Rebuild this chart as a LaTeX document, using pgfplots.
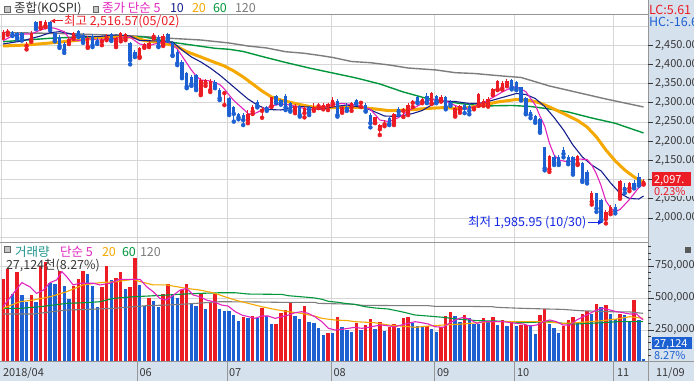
\documentclass[border=0pt]{standalone}
\usepackage{fontspec}
\setmainfont{Noto Sans CJK KR}
\usepackage{pgfplots}
\pgfplotsset{compat=1.18}
\usepackage{pgfplotstable}
\usetikzlibrary{arrows.meta}
\definecolor{cred}{RGB}{236,28,36}
\definecolor{cblue}{RGB}{28,96,210}
\definecolor{ma5}{RGB}{226,36,190}
\definecolor{ma10}{RGB}{22,32,140}
\definecolor{ma20}{RGB}{245,168,0}
\definecolor{ma60}{RGB}{0,150,60}
\definecolor{ma120}{RGB}{125,125,125}
\definecolor{gridc}{RGB}{214,214,214}
\definecolor{panel}{RGB}{214,225,238}
\definecolor{txt}{RGB}{55,55,55}
\definecolor{tealc}{RGB}{30,150,140}
\definecolor{annblue}{RGB}{20,40,230}
\definecolor{sepc}{RGB}{150,150,150}

\pgfplotstableread{
i o h l c
0 2472 2490 2469 2485
1 2483 2492 2477 2488
5 2448 2457 2439 2453
6 2464 2487 2459 2483
8 2497 2514 2494 2512
9 2500 2516.57 2497 2510
14 2459 2471 2453 2465
15 2471 2484 2466 2481
18 2446 2474 2443 2468
21 2459 2468 2450 2463
22 2468 2479 2463 2474
24 2450 2471 2445 2468
25 2465 2484 2460 2481
26 2468 2482 2463 2479
29 2420 2445 2417 2442
30 2446 2456 2443 2452
31 2450 2461 2445 2456
32 2472 2481 2468 2477
34 2450 2479 2448 2474
42 2323 2364 2320 2359
43 2351 2362 2344 2359
44 2333 2362 2328 2357
47 2325 2331 2294 2329
52 2255 2281 2247 2271
53 2277 2294 2271 2289
55 2279 2290 2261 2284
57 2292 2316 2289 2314
62 2279 2297 2273 2292
64 2273 2292 2262 2286
66 2283 2299 2279 2289
67 2291 2299 2286 2294
68 2289 2299 2283 2294
69 2292 2299 2281 2296
70 2299 2314 2294 2307
72 2277 2292 2274 2289
74 2289 2303 2279 2300
76 2300 2305 2289 2303
79 2249 2264 2247 2262
80 2231 2245 2216 2242
81 2244 2255 2239 2248
83 2247 2273 2242 2271
85 2279 2286 2263 2283
86 2273 2299 2268 2294
87 2300 2307 2289 2303
89 2303 2312 2299 2309
91 2299 2329 2297 2325
93 2307 2320 2303 2316
96 2268 2291 2264 2286
97 2281 2294 2274 2291
100 2286 2292 2283 2290
101 2295 2325 2292 2323
102 2298 2309 2292 2305
103 2293 2314 2290 2310
104 2325 2338 2320 2335
105 2335 2360 2333 2357
106 2338 2356 2334 2351
107 2346 2362 2343 2358
116 2127 2164 2120 2161.5
122 2142 2165 2138 2161.5
125 2042.6 2070 2035 2064.3
128 1997.5 2022 1985.95 2014.7
129 2016.5 2033 2010 2029.5
131 2055.6 2100 2050 2097.3
133 2077.3 2093 2070 2090.3
136 2090.3 2101 2087 2097.3
}\redc

\pgfplotstableread{
i o h l c
2 2484 2487 2474 2477
3 2482 2484 2466 2471
4 2481 2484 2462 2468
7 2511 2514 2492 2497
10 2510 2513 2489 2494
11 2482 2485 2460 2463
12 2472 2476 2443 2448
13 2453 2458 2430 2437
16 2487 2490 2471 2477
17 2477 2481 2456 2459
19 2474 2479 2445 2450
20 2463 2469 2453 2457
23 2479 2482 2461 2465
27 2455 2459 2400 2411
28 2433 2437 2419 2424
33 2472 2476 2445 2448
35 2479 2482 2461 2465
36 2455 2458 2422 2424
37 2433 2437 2398 2403
38 2407 2411 2364 2368
39 2377 2380 2338 2342
40 2366 2372 2344 2349
41 2372 2375 2333 2338
45 2355 2359 2338 2342
46 2333 2338 2307 2312
48 2312 2315 2268 2273
49 2289 2292 2251 2271
50 2271 2274 2257 2262
51 2268 2273 2242 2255
54 2303 2307 2288 2292
56 2288 2292 2279 2283
58 2318 2320 2299 2300
59 2307 2310 2295 2299
60 2318 2323 2281 2288
61 2299 2303 2277 2281
63 2292 2294 2264 2268
65 2289 2292 2268 2274
71 2305 2309 2264 2268
73 2290 2300 2279 2283
75 2307 2311 2297 2299
77 2294 2299 2277 2279
78 2268 2273 2236 2247
82 2260 2264 2242 2245
84 2283 2289 2268 2277
88 2314 2318 2299 2302
90 2318 2326 2299 2303
92 2318 2321 2299 2303
94 2314 2318 2283 2289
95 2303 2307 2292 2297
98 2294 2297 2273 2286
99 2291 2300 2270 2279
108 2359 2362 2335 2340
109 2355 2358 2333 2338
110 2340 2342 2306 2309
111 2312 2314 2270 2273
112 2277 2281 2260 2268
113 2266 2268 2248 2253
114 2257 2260 2222 2225
115 2184 2186 2124 2129.5
117 2158 2163 2138 2142.5
118 2160 2163 2138 2144
119 2177 2184 2158 2167
120 2160 2164 2140 2147
121 2158 2161 2113 2118
123 2144 2146 2094 2099
124 2121 2124 2090 2097
126 2064 2066 2016 2025
127 2047 2050 1993 1995
130 2029.5 2037 2012 2019
132 2081.6 2090 2065 2074.7
134 2091 2100 2077 2081
135 2107.7 2117 2084 2088.6
}\bluec

\pgfplotstableread{
i v
0 648000
1 724000
3 703000
6 523000
8 750000
9 780000
12 711000
15 596000
16 648000
17 711000
21 586000
22 753000
24 659000
25 706000
27 583000
28 815000
31 503000
34 531000
35 612000
38 565000
39 612000
42 536000
44 458000
45 532000
51 349000
53 359000
55 424000
58 297000
59 383000
60 406000
61 464000
64 437000
69 227000
71 352000
75 305000
77 289000
78 336000
80 312000
82 273000
83 297000
85 344000
86 352000
90 281000
93 271000
94 359000
95 391000
98 367000
102 344000
104 352000
106 328000
108 320000
110 289000
111 289000
114 367000
115 414000
119 281000
120 328000
121 352000
123 375000
124 401000
126 453000
128 445000
131 375000
134 484000
}\redv

\pgfplotstableread{
i v
2 531000
4 526000
5 470000
7 471000
10 620000
11 612000
13 594000
14 492000
18 690000
19 596000
20 430000
23 641000
26 570000
29 604000
30 435000
32 477000
33 432000
36 521000
37 503000
40 464000
41 437000
43 417000
46 414000
47 398000
48 398000
49 367000
50 320000
52 344000
54 344000
56 359000
57 297000
62 359000
63 336000
65 312000
66 305000
67 266000
68 211000
70 227000
72 273000
73 250000
74 234000
76 253000
79 258000
81 242000
84 266000
87 305000
88 281000
89 273000
91 258000
92 234000
96 359000
97 312000
99 344000
100 297000
101 297000
103 312000
105 289000
107 281000
109 281000
112 289000
113 219000
116 297000
117 266000
118 227000
122 312000
125 375000
127 430000
129 375000
130 336000
132 367000
133 320000
135 328000
136 27124
}\bluev

\newcommand\fa{\fontsize{11bp}{13bp}\selectfont}
\newcommand\fb{\fontsize{12.5bp}{14bp}\selectfont}

\begin{document}
\begin{tikzpicture}[every node/.style={inner sep=0pt, outer sep=0pt}]
\useasboundingbox (0,0) rectangle (694bp,381bp);
\clip (0,0) rectangle (694bp,381bp);
\fill[white] (0,0) rectangle (694bp,381bp);
\fill[panel] (648bp,0) rectangle (694bp,381bp);
\fill[panel] (0,0) rectangle (694bp,19bp);

% ---------------- price panel
\begin{axis}[at={(0bp,138bp)}, anchor=south west, scale only axis,
  width=648bp, height=229bp,
  xmin=-0.637, xmax=136.94, ymin=1934.9, ymax=2531.2,
  axis line style={draw=none},
  xtick={28.56,47.66,69.75,91.61,108.6,129.6}, xticklabels={},
  ytick={1950,2000,...,2500}, yticklabels={},
  major tick length=0pt,
  xmajorgrids, ymajorgrids,
  major grid style={draw=gridc, line width=0.9bp}]
\addplot[ma120, line width=1.4bp] coordinates {(0,2483)(14,2480)(28,2474)(34,2469)(42,2463.5)(48,2455.7)(52,2447.9)(56,2442.7)(60,2433)(64,2428.9)(68,2421.9)(70,2418)(74,2407.5)(78,2404.4)(82,2398.4)(86,2390.6)(92,2385.4)(96,2378.4)(100,2376.3)(106,2369.8)(110,2365.9)(116,2343.8)(122,2326.8)(128,2309.9)(136,2289.1)};
\addplot[ma60, line width=1.4bp] coordinates {(0,2459.1)(5,2463.5)(10,2468)(15,2470.6)(25,2472.1)(30,2471.4)(35,2459.1)(40,2450.5)(45,2441.9)(48,2439.3)(51,2433.6)(55,2420.6)(60,2405)(65,2390.6)(70,2377.6)(75,2364.6)(80,2349)(85,2328.1)(90,2311.2)(93,2306)(97,2298.2)(102,2291.7)(108,2293)(112,2290.4)(116,2283.9)(120,2276.1)(125,2260.4)(130,2246.6)(136,2221.4)};
\addplot[ma20, line width=3bp] coordinates {(0,2447.9)(5,2450.5)(10,2455.7)(15,2461.7)(20,2468.7)(25,2472.7)(28,2470.1)(30,2462.2)(34,2455.7)(37,2446.1)(39,2433.1)(42,2419.3)(45,2405)(47,2395.8)(49,2382.8)(51,2367.2)(53,2349)(55,2330.7)(57,2315.1)(59,2307.3)(62,2298.2)(65,2290.4)(68,2286.5)(72,2288.3)(76,2287.8)(79,2283.9)(82,2279.4)(86,2281.3)(90,2285.2)(94,2287.8)(97,2283.9)(101,2291.7)(105,2302.1)(109,2308.6)(112,2306)(114,2299.5)(116,2289.1)(119,2272.1)(122,2253.9)(124,2237)(126,2210.9)(128,2177.1)(130,2148.4)(132,2125)(134,2106.8)(136,2092.5)};
\addplot[ma10, line width=1.1bp] coordinates {(0,2453.1)(4,2460.9)(8,2474)(10,2482.5)(12,2485.2)(14,2480.5)(16,2474)(20,2472.1)(24,2476.6)(27,2474)(29,2462.2)(33,2460.9)(36,2458.3)(38,2437.5)(40,2419.3)(42,2406.3)(44,2390.6)(46,2372.4)(48,2351.6)(50,2330.7)(52,2309.9)(54,2294.3)(56,2282.6)(59,2281.3)(62,2290.4)(65,2289.1)(67,2282.6)(70,2289.1)(73,2294.3)(77,2286.5)(79,2276.1)(81,2265.6)(84,2264.3)(87,2272.1)(89,2279.9)(91,2294.3)(93,2304.7)(96,2303.4)(99,2298.2)(101,2298.2)(103,2303.4)(106,2313.8)(109,2324.2)(111,2321.6)(113,2311.2)(115,2290.4)(117,2261.7)(119,2229.2)(121,2190.1)(123,2158.9)(125,2138)(127,2122.4)(129,2091.2)(131,2064.4)(133,2050.8)(135,2049.5)(136,2057.3)};
\addplot[ma5, line width=1.1bp] coordinates {(0,2461.7)(2,2474)(4,2479.2)(6,2479.2)(8,2489.6)(10,2496.1)(11,2494)(13,2485.2)(14,2468.7)(16,2461.7)(18,2467.4)(20,2463.5)(23,2466.1)(25,2470.1)(27,2470.6)(29,2453.1)(31,2449.2)(33,2455.7)(35,2458.3)(36,2450.5)(37,2440.1)(38,2421.9)(39,2403.7)(40,2385.4)(41,2369.8)(42,2359.4)(44,2356.8)(46,2347.7)(47,2336)(48,2320.3)(49,2306)(51,2283.9)(52,2272.1)(53,2269.5)(55,2281.3)(57,2291.7)(59,2296.9)(61,2294.3)(63,2288.3)(65,2281.3)(67,2285.2)(70,2295.6)(72,2298.2)(75,2294.3)(78,2283.1)(80,2255.2)(82,2250.8)(84,2261.7)(86,2278.7)(88,2291.7)(90,2304.7)(92,2309.1)(94,2304.7)(96,2293)(98,2282.6)(100,2289.1)(102,2300.8)(104,2313.8)(106,2328.1)(108,2339.8)(109,2341.9)(111,2328.9)(113,2294.3)(114,2265.6)(115,2239.6)(116,2195.3)(117,2164.1)(118,2151)(120,2145.9)(122,2153.7)(124,2152.4)(125,2138)(126,2114.6)(127,2083.4)(128,2044.3)(129,2026.1)(130,2016.9)(131,2022.2)(133,2048.2)(135,2079.5)(136,2088.6)};
% candles: wicks and bodies
\addplot[cred, only marks, mark=none, error bars/.cd, y dir=plus, y explicit, error mark=none,
  error bar style={color=cred, line width=1bp}] table[x=i, y=l, y error plus expr={\thisrow{h}-\thisrow{l}}] {\redc};
\addplot[cred, only marks, mark=none, error bars/.cd, y dir=plus, y explicit, error mark=none,
  error bar style={color=cred, line width=3.4bp}] table[x=i, y=o, y error plus expr={\thisrow{c}-\thisrow{o}}] {\redc};
\addplot[cblue, only marks, mark=none, error bars/.cd, y dir=plus, y explicit, error mark=none,
  error bar style={color=cblue, line width=1bp}] table[x=i, y=l, y error plus expr={\thisrow{h}-\thisrow{l}}] {\bluec};
\addplot[cblue, only marks, mark=none, error bars/.cd, y dir=plus, y explicit, error mark=none,
  error bar style={color=cblue, line width=3.4bp}] table[x=i, y=c, y error plus expr={\thisrow{o}-\thisrow{c}}] {\bluec};
\end{axis}

% ---------------- volume panel
\begin{axis}[at={(0bp,19bp)}, anchor=south west, scale only axis,
  width=648bp, height=119bp,
  xmin=-0.637, xmax=136.94, ymin=0, ymax=929700,
  scaled y ticks=false,
  axis line style={draw=none},
  xtick={28.56,47.66,69.75,91.61,108.6,129.6}, xticklabels={},
  ytick={250000,500000,750000}, yticklabels={},
  major tick length=0pt,
  xmajorgrids, ymajorgrids,
  major grid style={draw=gridc, line width=0.9bp}]
\addplot[ycomb, cred, line width=3.4bp, mark=none] table[x=i, y=v] {\redv};
\addplot[ycomb, cblue, line width=3.4bp, mark=none] table[x=i, y=v] {\bluev};
\addplot[ma120, line width=1.1bp] coordinates {(0,375000)(6.4,375000)(8.6,385000)(13.5,406000)(17.8,411000)(23.4,419000)(27.7,432000)(30.5,440000)(34.7,445000)(39,453000)(43.2,464000)(46,471000)(53.5,469000)(59.2,466000)(66.2,466000)(67,458000)(72.6,453000)(74.4,451000)(76.2,443000)(84.6,440000)(90.3,440000)(91.7,435000)(97.7,435000)(103.9,432000)(104.8,427000)(110.4,419000)(118.9,411000)(122.5,401000)(128.9,393000)(133.1,391000)(135.9,380000)};
\addplot[ma60, line width=1.1bp] coordinates {(0,419000)(3.6,419000)(7.9,432000)(13.5,458000)(17.8,464000)(20.6,471000)(23.4,497000)(27.7,510000)(31.2,516000)(34.7,523000)(38.3,531000)(41.8,536000)(46,541000)(49.3,541000)(52.1,531000)(59.2,528000)(60.6,518000)(64.8,505000)(66.2,500000)(67.7,490000)(69.1,474000)(71.2,466000)(72.6,458000)(74.7,450000)(76.9,432000)(79,422000)(81.8,414000)(84.6,393000)(87.5,367000)(90.3,359000)(93.5,349000)(96.3,336000)(100.6,323000)(104.8,320000)(107.6,315000)(110.4,307000)(116.1,315000)(118.9,302000)(121.8,297000)(124.6,302000)(127.4,307000)(130.3,315000)(135.9,315000)};
\addplot[ma20, line width=1.1bp] coordinates {(0,419000)(3.6,471000)(6.4,484000)(10,510000)(13.5,549000)(17,602000)(20.6,620000)(24.1,628000)(27.7,646000)(29.1,628000)(31.9,602000)(34.7,602000)(39,575000)(41.8,562000)(44.7,540000)(47.1,510000)(49.3,484000)(52.1,458000)(54.9,432000)(57.7,411000)(60.6,393000)(63.4,380000)(66.2,359000)(67.7,341000)(70.5,328000)(73.3,323000)(74.7,315000)(78.9,307000)(81.8,289000)(84.6,281000)(87.5,271000)(90.3,281000)(93.5,289000)(97.7,297000)(100.6,307000)(103.4,315000)(111.9,315000)(114.7,315000)(118.9,302000)(121.8,307000)(124.6,315000)(127.4,323000)(130.3,336000)(133.1,354000)(135.9,341000)};
\addplot[ma5, line width=1.1bp] coordinates {(0,432000)(2.2,536000)(4,620000)(5.7,588000)(7.1,536000)(8.6,562000)(10,620000)(11.4,641000)(12.5,706000)(13.5,667000)(14.9,602000)(16.3,615000)(19.2,615000)(20.6,602000)(22.7,615000)(24.8,646000)(27.7,646000)(29.1,646000)(30.5,588000)(31.9,549000)(33.3,497000)(34.7,484000)(36.2,523000)(37.6,562000)(39,575000)(40.4,523000)(41.8,510000)(43.2,484000)(44.7,471000)(46.4,445000)(47.8,437000)(49.3,393000)(50.7,367000)(52.1,354000)(53.5,341000)(54.9,359000)(56.3,359000)(57.8,341000)(59.2,354000)(60.6,367000)(62,385000)(63.4,393000)(64.8,380000)(66.2,354000)(67.7,315000)(69.1,263000)(70.5,250000)(71.9,255000)(73.3,263000)(74.7,271000)(76.2,263000)(77.6,271000)(79,281000)(80.4,289000)(83.2,276000)(84.6,289000)(86,302000)(87.5,315000)(88.9,307000)(90.3,297000)(91.7,276000)(93.5,271000)(94.9,307000)(96.3,333000)(97.7,349000)(99.1,333000)(100.6,302000)(102,315000)(103.4,315000)(106.2,315000)(109,302000)(110.4,297000)(111.9,281000)(113.3,289000)(114.7,315000)(116.1,328000)(117.5,315000)(118.9,289000)(120.4,289000)(121.8,328000)(123.2,354000)(124.6,380000)(126,406000)(127.4,419000)(128.9,406000)(130.3,393000)(131.7,385000)(133.1,375000)(134.5,375000)(135.9,328000)};
\end{axis}

% ---------------- frame lines
\draw[gridc, line width=0.9bp] (1.5bp,19bp) -- (1.5bp,367bp);
\draw[sepc, line width=0.8bp] (0,367bp) -- (648bp,367bp);
\draw[sepc, line width=1bp] (0,138bp) -- (648bp,138bp);
\draw[sepc, line width=1bp] (0,19bp) -- (694bp,19bp);
\draw[sepc, line width=1bp] (648bp,0) -- (648bp,381bp);
\foreach \xx in {137.5,227.5,331.5,434.5,514.5,613.5}
  \draw[sepc, line width=0.9bp] (\xx bp,0) -- (\xx bp,19bp);

% ---------------- headers
\fill[gray!45, draw=gray!80!black, line width=0.5bp] (4.5bp,368.5bp) rectangle (10bp,374.5bp);
\node[anchor=base west, text=txt] at (14bp,368bp) {\fb 종합(KOSPI)};
\fill[gray!45, draw=gray!80!black, line width=0.5bp] (93bp,368.5bp) rectangle (98.5bp,374.5bp);
\node[anchor=base west, text=ma5] at (102bp,368bp) {\fb 종가 단순 5};
\node[anchor=base west, text=ma10] at (170bp,368bp) {\fb 10};
\node[anchor=base west, text=ma20] at (192bp,368bp) {\fb 20};
\node[anchor=base west, text=ma60] at (213bp,368bp) {\fb 60};
\node[anchor=base west, text=ma120] at (235bp,368bp) {\fb 120};

\fill[gray!45, draw=gray!80!black, line width=0.5bp] (4.5bp,128.5bp) rectangle (10bp,134.5bp);
\node[anchor=base west, text=tealc] at (15bp,124.5bp) {\fb 거래량};
\node[anchor=base west, text=ma5] at (60bp,124.5bp) {\fb 단순 5};
\node[anchor=base west, text=ma20] at (102bp,124.5bp) {\fb 20};
\node[anchor=base west, text=ma60] at (122bp,124.5bp) {\fb 60};
\node[anchor=base west, text=ma120] at (140bp,124.5bp) {\fb 120};
\node[anchor=base west, text=txt] at (6bp,111.5bp) {\fb 27,124천(8.27\%)};

% annotations
\draw[cred, line width=1bp, -{Latex[length=5bp,width=5bp]}] (63bp,360bp) -- (50bp,360bp);
\node[anchor=base west, text=cred] at (64bp,355bp) {\fb 최고 2,516.57(05/02)};
\node[anchor=base west, text=annblue] at (468bp,154bp) {\fb 최저 1,985.95 (10/30)};
\draw[annblue, line width=1bp, -{Latex[length=5bp,width=5bp]}] (588bp,158.5bp) -- (603bp,158.5bp);

% ---------------- right panel labels
\node[anchor=base west, text=cred] at (649bp,366bp) {\fb LC:5.61};
\node[anchor=base west, text=cblue] at (649bp,354bp) {\fb HC:-16.66};
\foreach \yy/\lab in {335.8/{2,450.00},316.6/{2,400.00},297.4/{2,350.00},278.2/{2,300.00},259/{2,250.00},239.8/{2,200.00},220.6/{2,150.00},182.2/{2,050.00},163/{2,000.00}}{
  \draw[txt, line width=0.8bp] (648bp,\yy bp) -- (653bp,\yy bp);
  \node[anchor=west, text=txt] at (655bp,\yy bp) {\fa \lab};
}
\draw[txt, line width=0.8bp] (648bp,201.4bp) -- (653bp,201.4bp);
\fill[cred] (652bp,195bp) rectangle (691bp,208.5bp);
\node[anchor=base west, text=white] at (654bp,197.5bp) {\fa 2,097.};
\fill[panel] (652bp,185bp) rectangle (694bp,194.5bp);
\node[anchor=base west, text=cred] at (654bp,185.5bp) {\fa 0.23\%};

\foreach \k in {1,...,18}{
  \pgfmathsetmacro\yy{19+\k*6.4}
  \draw[txt, line width=0.7bp] (648bp,\yy bp) -- (651bp,\yy bp);
}
\foreach \yy/\lab in {115/{750,000},83/{500,000},51/{250,000}}{
  \draw[txt, line width=0.8bp] (648bp,\yy bp) -- (654bp,\yy bp);
  \node[anchor=west, text=txt] at (655bp,\yy bp) {\fa \lab};
}
\fill[cblue] (652bp,31.5bp) rectangle (692bp,44bp);
\node[anchor=base west, text=white] at (654bp,33.5bp) {\fa 27,124};
\node[anchor=base west, text=cblue] at (654bp,21.5bp) {\fa 8.27\%};
\fill[gray!70!black] (685bp,128bp) rectangle (691bp,133.5bp);

% ---------------- date labels
\foreach \xx/\lab in {3/{2018/04},139.5/06,229/07,333.5/08,437/09,517/10,617/11,656/{11/09}}
  \node[anchor=base west, text=txt] at (\xx bp,4.5bp) {\fa \lab};
\end{tikzpicture}
\end{document}
